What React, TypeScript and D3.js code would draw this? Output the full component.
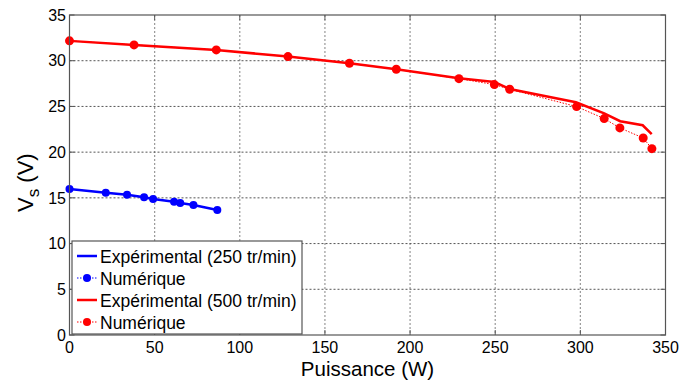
import React from "react";
import * as d3 from "d3";

const blueNumX = [0, 21.3, 33.8, 43.8, 49.1, 61.4, 65.0, 72.8, 86.8];
const blueNumY = [15.97, 15.57, 15.35, 15.06, 14.88, 14.58, 14.44, 14.22, 13.68];
const blueExpX = [0, 21.3, 33.8, 43.8, 49.1, 61.4, 65.0, 72.8, 86.8];
const blueExpY = [15.97, 15.57, 15.35, 15.06, 14.88, 14.58, 14.44, 14.22, 13.68];

const redNumX = [0, 37.9, 86.2, 128.3, 164.4, 191.9, 228.7, 249.5, 258.5, 297.8, 314.0, 323.2, 336.9, 342.0];
const redNumY = [32.17, 31.73, 31.18, 30.45, 29.72, 29.07, 28.04, 27.39, 26.88, 24.98, 23.67, 22.65, 21.55, 20.38];
const redExpX = [0, 37.9, 86.2, 128.3, 164.4, 191.9, 228.7, 249.5, 258.5, 297.4, 314.0, 323.4, 336.6, 341.9];
const redExpY = [32.17, 31.73, 31.18, 30.45, 29.72, 29.07, 28.08, 27.68, 26.9, 25.46, 24.25, 23.38, 22.94, 21.96];

const xTicks = [0, 50, 100, 150, 200, 250, 300, 350];
const yTicks = [0, 5, 10, 15, 20, 25, 30, 35];

const legendLabels = ["Expérimental (250 tr/min)", "Numérique", "Expérimental (500 tr/min)", "Numérique"];

const FONT = "'Liberation Sans', Arial, sans-serif";

export default function App() {
  const W = 696, H = 381;
  const L = 69.5, R = 665.5, T = 15, B = 335;
  const x = d3.scaleLinear().domain([0, 350]).range([L, R]);
  const y = d3.scaleLinear().domain([0, 35]).range([B, T]);
  const line = d3.line<[number, number]>().x(d => x(d[0])).y(d => y(d[1]));
  const zip = (a: number[], b: number[]) => a.map((v, i) => [v, b[i]] as [number, number]);

  const blueN = zip(blueNumX, blueNumY);
  const blueE = zip(blueExpX, blueExpY);
  const redN = zip(redNumX, redNumY);
  const redE = zip(redExpX, redExpY);

  const BLUE = "#0000ff";
  const RED = "#ff0000";

  const legX = 72, legY = 241, legW = 230, legH = 93;
  const rowY = [256, 278, 300, 322];
  const legColors = [BLUE, BLUE, RED, RED];

  return (
    <svg width={W} height={H} style={{ position: "absolute", left: 0, top: 0, background: "#fff" }}>
      <rect x={0} y={0} width={W} height={H} fill="#fff" />
      {/* grid */}
      {xTicks.slice(1, -1).map(t => (
        <line key={"gx" + t} x1={x(t)} x2={x(t)} y1={T} y2={B} stroke="#999" strokeWidth={1.2} strokeDasharray="2,2" />
      ))}
      {yTicks.slice(1, -1).map(t => (
        <line key={"gy" + t} x1={L} x2={R} y1={y(t)} y2={y(t)} stroke="#555" strokeWidth={1} strokeDasharray="2,2" />
      ))}
      {/* data */}
      <path d={line(blueE) || ""} fill="none" stroke={BLUE} strokeWidth={2.5} />
      <path d={line(blueN) || ""} fill="none" stroke={BLUE} strokeWidth={1} strokeDasharray="1.5,1.5" />
      {blueN.map((p, i) => (
        <circle key={"bn" + i} cx={x(p[0])} cy={y(p[1])} r={4} fill={BLUE} />
      ))}
      <path d={line(redE) || ""} fill="none" stroke={RED} strokeWidth={2.5} />
      <path d={line(redN) || ""} fill="none" stroke={RED} strokeWidth={1} strokeDasharray="1.5,1.5" />
      {redN.map((p, i) => (
        <circle key={"rn" + i} cx={x(p[0])} cy={y(p[1])} r={4.5} fill={RED} />
      ))}
      {/* axes box */}
      <rect x={L} y={T} width={R - L} height={B - T} fill="none" stroke="#555" strokeWidth={1.2} />
      {xTicks.map(t => (
        <g key={"tx" + t}>
          <line x1={x(t)} x2={x(t)} y1={B} y2={B - 5} stroke="#555" />
          <line x1={x(t)} x2={x(t)} y1={T} y2={T + 5} stroke="#555" />
          <text x={x(t)} y={352.5} textAnchor="middle" fontFamily={FONT} fontSize={16} fill="#000">{t}</text>
        </g>
      ))}
      {yTicks.map(t => (
        <g key={"ty" + t}>
          <line x1={L} x2={L + 5} y1={y(t)} y2={y(t)} stroke="#555" />
          <line x1={R} x2={R - 5} y1={y(t)} y2={y(t)} stroke="#555" />
          <text x={66} y={y(t) + 5.7} textAnchor="end" fontFamily={FONT} fontSize={16} fill="#000">{t}</text>
        </g>
      ))}
      {/* axis titles */}
      <text x={(299 + 436) / 2} y={375.5} textAnchor="middle" fontFamily={FONT} fontSize={20.5} fill="#000">Puissance (W)</text>
      <text transform="translate(33,212) rotate(-90)" fontFamily={FONT} fontSize={22} fill="#000">
        <tspan>V</tspan>
        <tspan fontSize={17} dy={6}>s</tspan>
        <tspan dy={-6}> (V)</tspan>
      </text>
      {/* legend */}
      <rect x={legX} y={legY} width={legW} height={legH} fill="#fff" stroke="#555" strokeWidth={1.2} />
      {legendLabels.map((lab, i) => {
        const c = legColors[i];
        const ry = rowY[i];
        const isNum = i % 2 === 1;
        return (
          <g key={"lg" + i}>
            {isNum ? (
              <>
                <line x1={77} x2={97} y1={ry} y2={ry} stroke={c} strokeWidth={1} strokeDasharray="1.5,1.5" />
                <circle cx={87} cy={ry} r={4} fill={c} />
              </>
            ) : (
              <line x1={77} x2={97} y1={ry} y2={ry} stroke={c} strokeWidth={2.5} />
            )}
            <text x={100} y={ry + 6.5} fontFamily={FONT} fontSize={17.5} fill="#000">{lab}</text>
          </g>
        );
      })}
    </svg>
  );
}
